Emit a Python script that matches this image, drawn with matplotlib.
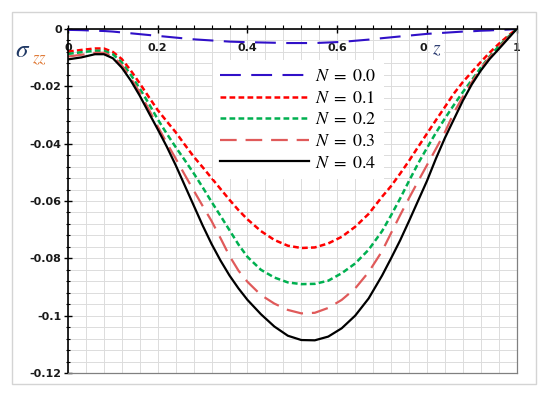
import matplotlib
matplotlib.use("Agg")
import matplotlib.pyplot as plt
import matplotlib.ticker as ticker
from matplotlib.patches import Rectangle

plt.rcParams["mathtext.fontset"] = "stix"
plt.rcParams["axes.unicode_minus"] = False

# ── data ─────────────────────────────────────────────────────────────────────
z = [0.00, 0.03, 0.06, 0.08, 0.10, 0.12, 0.14, 0.16, 0.18, 0.20,
     0.22, 0.24, 0.26, 0.28, 0.30, 0.32, 0.34, 0.36, 0.38, 0.40,
     0.43, 0.46, 0.49, 0.52, 0.55, 0.58, 0.61, 0.64, 0.67,
     0.70, 0.72, 0.74, 0.76, 0.78, 0.80, 0.82, 0.84, 0.86, 0.88,
     0.90, 0.92, 0.94, 0.96, 0.98, 1.00]

s_n00 = [-0.0003, -0.0004, -0.0006, -0.0007, -0.0009, -0.0012, -0.0015, -0.0018, -0.0021, -0.0024,
         -0.0027, -0.0030, -0.0033, -0.0036, -0.0038, -0.0040, -0.0042, -0.0044, -0.0045, -0.0046,
         -0.0047, -0.0048, -0.0049, -0.0049, -0.0049, -0.0047, -0.0045, -0.0041, -0.0037,
         -0.0032, -0.0029, -0.0026, -0.0023, -0.0020, -0.0017, -0.0015, -0.0013, -0.0011, -0.0009,
         -0.0008, -0.0006, -0.0005, -0.0003, -0.0002, 0.0]

s_n01 = [-0.0079, -0.0073, -0.0068, -0.0068, -0.0080, -0.0105, -0.0145, -0.0190, -0.0237, -0.0283,
         -0.0322, -0.0360, -0.0403, -0.0445, -0.0482, -0.0520, -0.0558, -0.0596, -0.0632, -0.0664,
         -0.0705, -0.0736, -0.0756, -0.0764, -0.0762, -0.0748, -0.0725, -0.0690, -0.0645,
         -0.0585, -0.0548, -0.0505, -0.0460, -0.0412, -0.0365, -0.0318, -0.0272, -0.0225, -0.0185,
         -0.0150, -0.0115, -0.0082, -0.0052, -0.0025, 0.0]

s_n02 = [-0.0087, -0.0081, -0.0076, -0.0076, -0.0088, -0.0117, -0.0160, -0.0208, -0.0260, -0.0315,
         -0.0365, -0.0412, -0.0457, -0.0503, -0.0552, -0.0603, -0.0652, -0.0702, -0.0752, -0.0795,
         -0.0840, -0.0867, -0.0884, -0.0890, -0.0889, -0.0878, -0.0852, -0.0818, -0.0770,
         -0.0705, -0.0650, -0.0592, -0.0530, -0.0470, -0.0415, -0.0362, -0.0312, -0.0265, -0.0220,
         -0.0178, -0.0135, -0.0095, -0.0060, -0.0029, 0.0]

s_n03 = [-0.0096, -0.0090, -0.0083, -0.0083, -0.0095, -0.0127, -0.0172, -0.0222, -0.0280, -0.0340,
         -0.0397, -0.0452, -0.0508, -0.0563, -0.0617, -0.0670, -0.0730, -0.0792, -0.0843, -0.0882,
         -0.0928, -0.0958, -0.0980, -0.0992, -0.0990, -0.0973, -0.0945, -0.0905, -0.0848,
         -0.0775, -0.0712, -0.0650, -0.0590, -0.0532, -0.0475, -0.0418, -0.0360, -0.0292, -0.0236,
         -0.0185, -0.0138, -0.0098, -0.0064, -0.0032, 0.0]

s_n04 = [-0.0106, -0.0099, -0.0088, -0.0088, -0.0102, -0.0135, -0.0180, -0.0233, -0.0292, -0.0350,
         -0.0410, -0.0475, -0.0545, -0.0615, -0.0685, -0.0750, -0.0808, -0.0860, -0.0905, -0.0945,
         -0.0995, -0.1038, -0.1070, -0.1085, -0.1086, -0.1073, -0.1044, -0.1000, -0.0940,
         -0.0860, -0.0800, -0.0738, -0.0670, -0.0600, -0.0530, -0.0452, -0.0380, -0.0315, -0.0250,
         -0.0193, -0.0145, -0.0104, -0.0070, -0.0035, 0.0]

labels = ["$N\\;=\\;0.0$", "$N\\;=\\;0.1$", "$N\\;=\\;0.2$", "$N\\;=\\;0.3$", "$N\\;=\\;0.4$"]
x_ticks = [0.0, 0.2, 0.4, 0.6, 0.8, 1.0]
# the ".8" of the 0.8 label is hidden under the z label in the original
x_ticklabels = ["0", "0.2", "0.4", "0.6", "0", "1"]
y_ticks = [-0.12, -0.10, -0.08, -0.06, -0.04, -0.02, 0.0]
y_ticklabels = ["-0.12", "-0.1", "-0.08", "-0.06", "-0.04", "-0.02", "0"]

# line styles per series: colour, width, dash pattern
_STYLES = [
    ("#3010c8", 1.5, (0, (10, 5))),
    ("#ff0000", 1.8, (0, (2.3, 1.3))),
    ("#00b050", 1.8, (0, (2.3, 1.3))),
    ("#e05a5a", 1.6, (0, (7.5, 4))),
    ("#000000", 1.6, "-"),
]

W, H = 550, 399
fig = plt.figure(figsize=(W / 100, H / 100), dpi=100)
fig.patch.set_facecolor("white")

# light outer frame
fig.patches.append(Rectangle((12 / W, 15 / H), 524 / W, 372 / H, transform=fig.transFigure,
                             fill=False, ec="#d4d4d4", lw=1.0))

ax = fig.add_axes([68 / W, 26 / H, 448.7 / W, 344 / H])
ax.set_axisbelow(True)

series = [s_n00, s_n01, s_n02, s_n03, s_n04]
for vals, lab, (col, lw, ls) in zip(series, labels, _STYLES):
    ax.plot(z, vals, color=col, lw=lw, linestyle=ls, label=lab)

ax.set_xlim(0, 1)
ax.set_ylim(-0.12, 0)

# ── axes / ticks ─────────────────────────────────────────────────────────────
ax.xaxis.set_ticks_position("top")
ax.set_xticks(x_ticks)
ax.set_xticklabels(x_ticklabels)
ax.xaxis.set_minor_locator(ticker.MultipleLocator(0.04))
ax.set_yticks(y_ticks)
ax.set_yticklabels(y_ticklabels)
ax.yaxis.set_minor_locator(ticker.MultipleLocator(0.004))

ax.tick_params(axis="x", which="major", direction="inout", length=6, width=1.0,
               labeltop=True, labelbottom=False, pad=-20)
ax.tick_params(axis="x", which="minor", direction="out", length=3, width=0.8)
ax.tick_params(axis="y", which="major", direction="inout", length=6, width=1.0, pad=1.5)
ax.tick_params(axis="y", which="minor", direction="inout", length=3.5, width=0.8)
for t in ax.get_xticklabels() + ax.get_yticklabels():
    t.set_fontweight("bold")
    t.set_fontsize(8)
    t.set_color("#1a1a1a")
ax.get_xticklabels()[4].set_horizontalalignment("right")

for side in ("top", "left"):
    ax.spines[side].set_color("black")
    ax.spines[side].set_linewidth(1.2)
for side in ("bottom", "right"):
    ax.spines[side].set_color("#808080")
    ax.spines[side].set_linewidth(0.9)

ax.grid(which="both", color="#dcdcdc", lw=0.7)

# ── axis labels drawn as free text ───────────────────────────────────────────
fig.text(23 / W, 1 - 50 / H, "$\\sigma$", fontsize=18, color="#1f3864",
         ha="center", va="center")
fig.text(39 / W, 1 - 58 / H, "$zz$", fontsize=12, color="#e07b39",
         ha="center", va="center")
fig.text(437 / W, 1 - 49 / H, "$z$", fontsize=14, color="#2f3f73",
         ha="center", va="center",
         bbox=dict(boxstyle="square,pad=0.1", fc="white", ec="none"))

# ── legend ──────────────────────────────────────────────────────────────────
leg = ax.legend(loc="upper left", bbox_to_anchor=(213 / W, 1 - 60 / H),
                bbox_transform=fig.transFigure, borderaxespad=0,
                frameon=True, fancybox=False, framealpha=1,
                facecolor="white", edgecolor="none",
                fontsize=13, handlelength=4.9, handletextpad=0.35,
                labelspacing=0.2, borderpad=0.4)

plt.savefig("out.png", dpi=100)
plt.close(fig)
